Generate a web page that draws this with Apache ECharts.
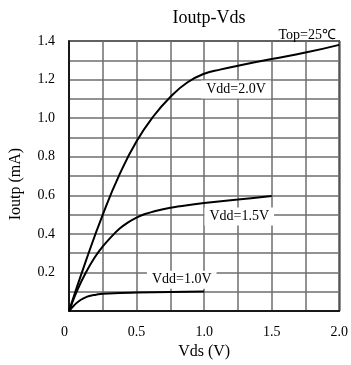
<!DOCTYPE html>
<html><head><meta charset="utf-8">
<script src="https://cdn.jsdelivr.net/npm/echarts@6/dist/echarts.min.js"></script>
<style>html,body{margin:0;padding:0;background:#fff}#c{width:351px;height:365px}</style>
</head><body><div id="c"></div>
<script>
var titleText = 'Ioutp-Vds';
var tempText = 'Top=25℃';
var xName = 'Vds (V)';
var yName = 'Ioutp (mA)';

var vds20 = [0, 0.125, 0.25, 0.375, 0.5, 0.625, 0.75, 0.875, 1.0, 1.125, 1.25, 1.5, 1.75, 2.0];
var iout20 = [0, 0.26, 0.5, 0.71, 0.88, 1.01, 1.11, 1.185, 1.23, 1.253, 1.272, 1.307, 1.34, 1.38];

var vds15 = [0, 0.0625, 0.125, 0.1875, 0.25, 0.3125, 0.375, 0.4375, 0.5, 0.5625, 0.625, 0.6875, 0.75, 0.875, 1.0, 1.25, 1.5];
var iout15 = [0, 0.11, 0.2, 0.275, 0.335, 0.385, 0.428, 0.46, 0.485, 0.503, 0.516, 0.527, 0.536, 0.549, 0.56, 0.578, 0.596];

var vds10 = [0, 0.035, 0.07, 0.11, 0.15, 0.2, 0.25, 0.375, 0.5, 0.75, 1.0];
var iout10 = [0, 0.028, 0.05, 0.067, 0.078, 0.085, 0.09, 0.094, 0.096, 0.099, 0.101];

var seriesNames = ['Vdd=2.0V', 'Vdd=1.5V', 'Vdd=1.0V'];
var labelPos = [[1.236, 1.148], [1.26, 0.49], [0.834, 0.163]];

function pairs(xs, ys) { return xs.map(function (x, i) { return [x, ys[i]]; }); }
var dataSets = [pairs(vds20, iout20), pairs(vds15, iout15), pairs(vds10, iout10)];
var smoothing = [0.5, 0.35, 0.5];

var font = '"Liberation Serif", "Times New Roman", serif';
var chart = echarts.init(document.getElementById('c'));
chart.setOption({
  animation: false,
  backgroundColor: '#fff',
  textStyle: { fontFamily: font },
  title: [
    { text: titleText, top: 4, left: 204, textAlign: 'center',
      textStyle: { fontFamily: font, fontSize: 18, fontWeight: 'normal', color: '#000' } },
    { text: tempText, right: 10, top: 23,
      textStyle: { fontFamily: font, fontSize: 14, fontWeight: 'normal', color: '#000' } }
  ],
  grid: { left: 69, right: 11, top: 41, bottom: 51, show: true, borderColor: '#000', borderWidth: 1.5 },
  xAxis: {
    type: 'value', min: 0, max: 2, interval: 0.25,
    name: xName, nameLocation: 'middle', nameGap: 28,
    nameTextStyle: { fontFamily: font, fontSize: 16, color: '#000' },
    axisLine: { show: true, lineStyle: { color: '#000', width: 1.5 } },
    axisTick: { show: false },
    axisLabel: { margin: 14, fontFamily: font, fontSize: 14, color: '#000',
      rich: { z: { fontFamily: font, fontSize: 14, color: '#000', padding: [0, 9, 0, 0] } },
      formatter: function (v) { if (Math.abs(v / 0.5 - Math.round(v / 0.5)) > 1e-6) return ''; return v === 0 ? '{z|0}' : v.toFixed(1); } },
    splitLine: { show: true, lineStyle: { color: '#6e6e6e', width: 1.5 } }
  },
  yAxis: {
    type: 'value', min: 0, max: 1.4, interval: 0.1,
    name: yName, nameLocation: 'middle', nameGap: 45,
    nameTextStyle: { fontFamily: font, fontSize: 16, color: '#000', padding: [0, 0, 0, -16] },
    axisLine: { show: true, lineStyle: { color: '#000', width: 1.5 } },
    axisTick: { show: false },
    axisLabel: { margin: 14, fontFamily: font, fontSize: 14, color: '#000',
      formatter: function (v) { var k = Math.round(v * 10); if (k === 0 || k % 2 !== 0) return ''; return v.toFixed(1); } },
    splitLine: { show: true, lineStyle: { color: '#6e6e6e', width: 1.5 } }
  },
  series: dataSets.map(function (d, i) {
    return {
      name: seriesNames[i], type: 'line', data: d, smooth: smoothing[i], symbol: 'none',
      lineStyle: { color: '#000', width: 2 },
      markPoint: {
        symbol: 'rect', symbolSize: 0,
        data: [{ coord: labelPos[i], value: seriesNames[i] }],
        label: { show: true, position: 'inside', formatter: seriesNames[i], fontFamily: font, fontSize: 14,
          color: '#000', backgroundColor: '#fff', padding: [2, 5] }
      }
    };
  })
});
</script></body></html>
